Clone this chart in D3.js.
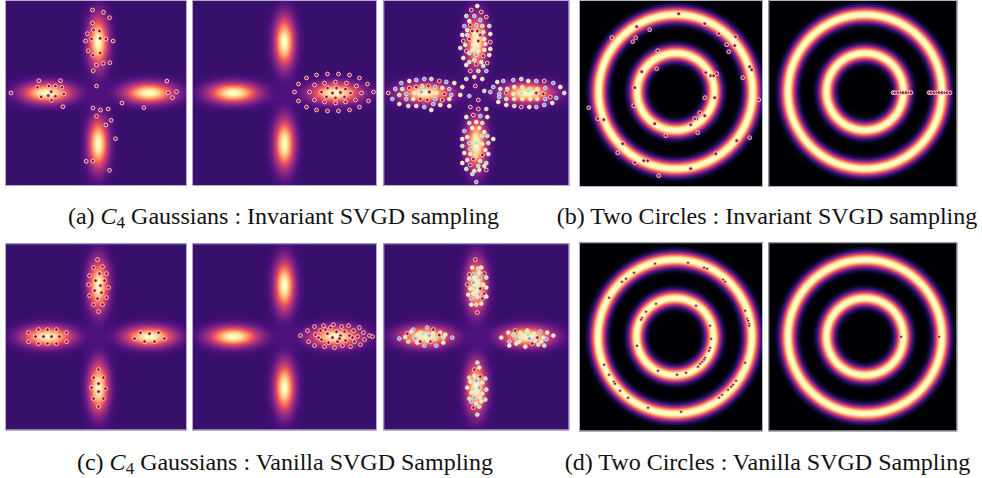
<!DOCTYPE html>
<html><head><meta charset="utf-8">
<script src="https://cdn.jsdelivr.net/npm/d3@7"></script>
<style>body{margin:0;background:#fff}svg{display:block}</style>
</head><body>
<svg id="fig" width="982" height="478"></svg>
<script>
// ---------------- DATA ----------------
// C4 Gaussian mixture: component centres and spreads (data units)
const gaussCenters = [[5.1, 0], [0, 5.1], [-5.1, 0], [0, -5.1]];
const gaussSigmaRadial = 1.75;
const gaussSigmaTangential = 0.7;
// Two circles target: ring radii and ring width (data units)
const ringRadii = [3.85, 7.7];
const ringSigma = 0.52;

// (a) panel 1: invariant SVGD particles
const invC4Particles = [[-0.57,8.3],[0.53,8.07],[1.13,7.53],[-0.57,7.0],[-1.07,5.93],[-0.47,6.3],[0.13,6.2],[-0.67,5.4],[0.2,5.47],[0.77,5.4],[-1.27,5.2],[1.5,5.2],[-1.0,4.23],[-0.53,3.77],[0.2,4.0],[-0.17,2.8],[0.5,2.97],[1.17,3.03],[-0.5,2.23],[-0.17,0.7],[-5.93,1.23],[-3.77,1.23],[-6.07,0.57],[-4.93,0.7],[-4.27,0.7],[-3.63,0.57],[-8.73,0],[-4.7,0.13],[-3.43,-0.1],[-5.7,-0.4],[-5.0,-0.27],[-4.27,-0.33],[-4.67,-0.73],[-3.53,-1.37],[6.87,1.2],[7.0,0.03],[7.83,0.13],[7.43,-0.47],[2.37,-1.0],[4.57,-1.47],[-0.53,-1.5],[0.23,-1.7],[1.0,-1.6],[-0.17,-2.33],[1.3,-2.73],[0.77,-3.2],[1.73,-4.57],[-1.2,-6.83],[-0.53,-6.8],[1.13,-7.73]];
// (a) panel 2: particles in the fundamental domain
const invC4Fundamental = [[1.0,0.1],[1.4,0.9],[2.2,1.5],[3.2,1.8],[4.3,1.9],[5.4,1.9],[6.5,1.8],[7.5,1.5],[8.3,0.9],[8.9,0.1],[8.4,-0.8],[7.5,-1.4],[6.5,-1.7],[5.4,-1.8],[4.3,-1.8],[3.2,-1.7],[2.2,-1.4],[1.4,-0.8],[2.5,0.1],[3.0,0.8],[4.0,1.0],[5.1,1.1],[6.2,1.0],[7.2,0.7],[7.7,0.0],[7.1,-0.7],[6.1,-0.9],[5.1,-1.0],[4.0,-0.9],[3.0,-0.7],[3.7,0.1],[4.3,0.5],[5.2,0.5],[6.1,0.4],[6.6,0.0],[6.0,-0.4],[5.1,-0.5],[4.2,-0.4],[4.8,0.0],[5.6,0.05]];
// (a) panel 3: orbit particles, [x, y, group]
const invC4Orbit = [[0.1,8.7,1],[-0.5,8.3,0],[0.5,8.1,0],[-1.0,7.7,2],[-0.2,7.7,3],[1.0,7.6,0],[-0.7,7.2,1],[0.4,7.3,3],[-1.2,6.7,3],[-0.6,6.8,0],[0.0,6.8,3],[0.6,6.7,2],[1.3,6.7,2],[-0.9,6.3,1],[-0.4,6.2,0],[0.1,6.2,0],[0.7,6.1,1],[-1.4,5.8,1],[-0.9,5.8,2],[-0.2,5.9,1],[0.4,5.8,0],[1.4,5.9,1],[-1.3,5.2,0],[-0.7,5.4,0],[-0.1,5.3,1],[0.2,5.2,0],[0.8,5.4,1],[-1.1,4.8,1],[-0.3,4.8,1],[0.1,4.7,1],[0.9,4.9,1],[1.4,5.1,0],[-1.6,4.5,2],[-1.0,4.2,0],[-0.4,4.3,1],[0.2,4.2,1],[0.8,4.3,1],[1.4,4.4,1],[-0.7,4.0,2],[0.0,3.8,3],[0.7,3.7,0],[1.3,3.8,1],[-1.3,3.5,1],[-0.7,3.1,2],[-0.2,3.3,2],[0.5,3.1,1],[1.1,3.0,0],[-1.0,2.8,1],[0.0,2.9,0],[0.7,2.7,2],[-0.6,2.2,0],[0.2,2.2,2],[1.0,2.2,3],
[-1.0,1.4,2],[-0.2,1.6,1],[0.6,1.4,1],[-1.4,0.6,1],[-0.1,0.7,0],[0.8,0.2,2],[-1.6,-0.2,1],[-0.7,-0.3,3],[0.2,-0.7,0],[-0.6,-1.4,0],[0.2,-1.6,0],[1.0,-1.6,2],
[-7.5,1.0,3],[-6.7,1.2,1],[-6.0,1.3,3],[-5.2,1.4,3],[-4.5,1.4,2],[-3.7,1.2,0],[-3.0,1.1,3],[-2.2,1.0,1],[-8.1,0.4,3],[-7.4,0.4,2],[-6.7,0.5,0],[-6.0,0.6,0],[-5.4,0.7,2],[-4.8,0.7,0],[-4.1,0.6,3],[-3.4,0.5,1],[-2.7,0.4,3],[-8.8,0.0,0],[-7.7,-0.2,2],[-7.0,-0.1,3],[-6.2,0.0,1],[-5.5,0.1,3],[-4.7,0.1,0],[-4.0,0.0,1],[-3.2,-0.1,0],[-2.5,-0.2,3],[-8.4,-0.6,3],[-7.0,-0.6,3],[-6.3,-0.6,1],[-5.6,-0.6,0],[-4.9,-0.7,0],[-4.1,-0.6,3],[-3.4,-0.7,0],[-2.7,-0.6,1],[-7.7,-1.1,1],[-6.8,-1.3,2],[-6.0,-1.3,1],[-5.2,-1.4,3],[-4.3,-1.1,3],[-3.6,-1.2,1],[-2.7,-1.3,1],[-4.5,-1.7,1],
[2.1,1.1,1],[2.7,1.2,3],[3.7,1.3,3],[4.5,1.4,2],[5.2,1.2,1],[6.0,1.2,3],[6.8,1.2,0],[7.7,1.0,3],[1.7,0.6,3],[2.4,0.4,1],[3.1,0.4,2],[3.8,0.6,1],[4.6,0.6,1],[5.4,0.4,2],[6.1,0.4,1],[6.9,0.5,3],[8.4,0.6,1],[1.4,0.1,3],[2.3,-0.1,3],[3.0,0.0,0],[3.7,-0.1,1],[4.5,0.0,2],[5.2,0.2,2],[6.0,0.0,0],[6.7,-0.1,0],[7.4,-0.4,0],[8.8,0.0,2],[2.3,-0.4,3],[3.0,-0.6,2],[3.8,-0.6,1],[4.6,-0.6,1],[5.4,-0.6,1],[6.1,-0.6,1],[6.9,-0.6,3],[8.0,-0.5,3],[2.2,-0.9,1],[3.0,-1.2,1],[3.8,-1.3,2],[4.5,-1.4,0],[5.3,-1.4,1],[6.0,-1.4,3],[6.8,-1.2,3],[7.6,-1.0,1],
[-1.0,-2.4,1],[-0.3,-2.2,0],[0.4,-2.3,3],[1.1,-2.4,1],[-0.7,-3.0,2],[0.0,-2.9,1],[0.6,-3.0,2],[-1.2,-3.8,3],[-0.4,-3.5,1],[0.3,-3.5,1],[0.8,-3.9,1],[-0.9,-4.4,1],[-0.1,-4.3,1],[0.6,-4.3,2],[1.1,-4.3,2],[1.7,-4.6,1],[-1.4,-4.6,1],[-0.7,-5.0,3],[0.0,-5.0,2],[0.6,-5.1,1],[1.2,-5.0,2],[-1.4,-5.3,2],[-0.6,-5.6,3],[0.1,-5.6,1],[0.9,-5.7,1],[-1.2,-6.0,1],[-0.6,-6.1,1],[-0.1,-6.3,2],[0.6,-6.2,0],[1.2,-6.1,1],[-0.9,-6.7,1],[-0.3,-6.6,0],[0.4,-6.8,2],[1.0,-7.0,2],[-1.4,-7.0,1],[-0.6,-7.2,0],[0.2,-7.3,2],[0.8,-7.3,1],[-1.0,-7.6,2],[-0.2,-7.8,1],[0.3,-7.7,1],[1.0,-7.7,0],[-0.4,-8.1,2],[0.0,-8.9,3]];

// (c) panel 1: vanilla SVGD particles
const vanC4Particles = [[-0.1,7.7],[-0.5,6.9],[0.4,7.0],[-0.9,6.1],[0.1,6.3],[0.8,6.3],[-0.3,5.6],[0.6,5.6],[-1.0,5.2],[0.2,5.1],[1.0,4.9],[-0.4,4.6],[0.3,4.4],[-0.9,4.1],[-0.1,3.8],[0.8,3.9],[-0.5,3.2],[0.4,3.2],[0.0,2.5],
[-7.0,0.4],[-6.0,0.7],[-5.1,0.7],[-4.2,0.7],[-3.2,0.4],[-6.3,0.0],[-5.5,0.0],[-4.7,0.0],[-3.9,0.0],[-7.0,-0.5],[-6.0,-0.7],[-5.1,-0.7],[-4.2,-0.7],[-3.2,-0.5],
[4.2,0.4],[5.1,0.3],[6.0,0.4],[3.6,-0.2],[4.6,-0.5],[5.6,-0.5],[6.6,-0.2],
[0.0,-3.3],[-0.5,-4.1],[0.5,-4.1],[0.0,-4.7],[-0.7,-5.1],[0.7,-5.2],[0.0,-5.5],[-0.5,-6.2],[0.5,-6.2],[0.0,-7.0]];
// (c) panel 2: fundamental-domain particles
const vanC4Fundamental = [[1.6,0.1],[2.3,0.6],[2.4,-0.5],[3.0,1.0],[3.1,0.2],[3.0,-0.9],[3.6,0.6],[3.7,-0.3],[3.9,1.1],[4.0,-1.0],[4.3,0.3],[4.4,-0.6],[4.6,0.9],[4.8,-0.1],[4.9,1.2],[5.0,-1.1],[5.2,0.5],[5.3,-0.5],[5.6,0.1],[5.7,1.0],[5.8,-0.9],[6.0,0.5],[6.1,-0.4],[6.4,1.1],[6.5,0.1],[6.6,-1.0],[6.9,0.6],[7.0,-0.5],[7.3,0.0],[7.5,0.9],[7.6,-0.8],[7.9,0.4],[8.0,-0.3],[8.5,0.1],[4.1,0.7],[5.5,-0.2],[6.8,-0.1],[3.4,-0.1],[8.8,0.0]];
// (c) panel 3: orbit particles, [x, y, group]
const vanC4Orbit = [[-0.1,7.7,0],[-0.4,6.9,1],[0.2,6.8,2],[0.5,6.9,1],[-0.7,6.2,0],[-0.3,6.2,3],[0.3,6.4,1],[0.8,6.3,0],[-0.7,5.8,1],[-0.2,5.9,1],[0.4,5.9,3],[1.0,5.9,2],[-0.9,5.2,0],[-0.3,5.4,3],[0.2,5.3,1],[0.7,5.2,1],[-0.6,4.8,1],[-0.1,4.9,2],[0.4,4.8,0],[1.0,4.9,1],[-0.8,4.2,1],[-0.3,4.3,1],[0.3,4.2,3],[0.8,4.3,0],[-0.5,3.8,3],[0.1,4.0,1],[0.6,3.8,0],[1.0,4.0,1],[-0.5,3.2,1],[0.0,3.2,2],[0.5,3.3,1],[0.1,2.4,0],
[-7.7,-0.2,3],[-6.9,0.3,0],[-6.3,0.7,3],[-5.6,0.4,1],[-4.9,0.9,3],[-4.3,0.7,0],[-3.6,0.4,1],[-3.1,0.2,1],[-6.8,-0.5,2],[-6.1,-0.2,3],[-5.5,0.0,1],[-4.7,0.1,3],[-4.1,-0.2,2],[-3.3,-0.1,2],[-2.4,-0.1,3],[-5.9,-0.6,1],[-5.2,-0.9,3],[-4.6,-0.5,0],[-4.0,-0.9,3],[-3.3,-0.6,1],[-6.5,0.5,1],[-5.9,0.2,1],[-5.3,0.3,2],[-4.3,0.3,1],[-3.7,0.15,0],[-7.1,-0.05,1],[-4.9,-0.4,1],[-5.6,-0.5,0],
[2.5,-0.1,1],[3.2,0.4,1],[3.9,0.6,0],[4.4,0.4,1],[5.1,0.6,1],[5.8,0.3,1],[6.4,0.5,3],[7.1,0.4,1],[7.7,0.1,1],[3.3,-0.5,3],[4.1,-0.3,3],[4.7,0.0,1],[5.3,-0.2,3],[6.1,-0.1,0],[6.7,-0.1,1],[7.0,-0.25,3],[3.3,-0.9,1],[4.0,-0.7,1],[4.9,-1.0,1],[5.6,-0.7,0],[6.2,-0.8,2],[6.8,-0.9,2],[3.7,0.2,2],[4.3,-0.5,1],[5.2,0.2,2],[5.9,-0.4,1],[6.5,-0.5,1],
[0.1,-2.6,2],[-0.2,-3.3,0],[0.3,-3.1,1],[-0.7,-4.1,2],[-0.2,-3.9,1],[0.4,-4.0,0],[0.9,-4.2,2],[-0.6,-4.5,1],[0.0,-4.4,3],[0.6,-4.6,1],[-0.9,-5.1,1],[-0.3,-5.2,2],[0.3,-5.1,3],[1.0,-5.3,2],[-0.5,-5.6,1],[0.1,-5.5,1],[0.6,-5.7,1],[-0.7,-6.2,2],[-0.2,-6.1,3],[0.4,-6.1,1],[0.9,-6.3,2],[-0.5,-6.5,3],[0.0,-6.7,1],[0.5,-6.5,1],[-0.3,-7.1,0],[0.3,-7.0,2],[0.1,-7.8,2]];

// (b) Two circles, invariant SVGD
const invRingParticles = [[0.3,7.8],[2.9,6.8],[-3.9,6.5],[-2.6,6.2],[4.3,5.8],[6.0,5.5],[-6.4,5.4],[-4.0,5.4],[-4.3,5.0],[5.1,4.7],[5.9,4.6],[5.3,4.0],[-1.8,4.1],[7.4,2.5],[7.6,2.2],[6.7,1.4],[-3.4,2.0],[-1.9,2.3],[3.0,1.9],[3.5,1.6],[3.8,1.6],[4.1,1.8],[-4.1,0.4],[2.9,-0.6],[3.9,-0.6],[8.3,-0.8],[-8.7,-1.6],[-4.2,-1.4],[2.4,-2.1],[2.9,-2.4],[2.1,-2.7],[1.9,-2.7],[-7.8,-2.7],[-7.2,-2.8],[1.5,-3.3],[-2.1,-3.2],[2.2,-4.1],[-1.0,-4.4],[7.4,-4.6],[6.1,-4.9],[-5.3,-5.2],[4.0,-6.2],[-5.8,-6.1],[-4.1,-7.1],[-3.2,-6.9],[-2.8,-6.9],[1.5,-7.7],[-1.7,-8.4]];
const invRingFundamental = [[2.8,-0.1],[3.0,-0.1],[3.3,-0.1],[3.6,-0.1],[3.8,-0.1],[4.1,-0.1],[4.4,-0.1],[4.6,-0.1],[6.4,-0.1],[6.6,-0.1],[6.9,-0.1],[7.2,-0.1],[7.4,-0.1],[7.7,-0.1],[8.0,-0.1],[8.2,-0.1],[8.5,-0.1]];
// (d) Two circles, vanilla SVGD
const vanRingParticles = [[-2.0,7.3],[1.3,7.4],[2.9,6.9],[3.2,6.8],[-4.1,6.4],[-4.9,5.8],[-5.3,5.5],[4.8,5.7],[5.0,5.5],[-6.6,3.9],[-1.9,3.3],[2.1,3.1],[-2.9,2.5],[-3.3,1.9],[-3.4,1.7],[7.0,2.6],[7.2,1.8],[7.3,1.6],[7.4,1.3],[7.4,1.1],[3.5,1.1],[3.6,-0.2],[-3.8,-0.9],[3.5,-1.1],[3.4,-1.4],[3.0,-2.1],[2.9,-2.3],[2.7,-2.5],[2.5,-2.7],[2.3,-3.0],[7.0,-2.6],[-7.1,-2.8],[-1.7,-3.4],[0.2,-3.8],[1.1,-3.6],[-6.6,-3.8],[-6.1,-4.5],[-6.0,-4.7],[6.1,-4.4],[5.8,-4.8],[5.6,-5.0],[5.3,-5.3],[4.7,-5.8],[4.4,-6.1],[-5.5,-5.4],[-4.7,-6.1],[-2.7,-7.1],[0.6,-7.5]];
const vanRingFundamental = [[3.6,0.0],[7.4,0.0]];

const groupColors = ["#a8102e", "#fdf1a2", "#a4ee9e", "#78a2f2"];

const captionTexts = [
  {label: "(a) ", sym: "C", sub: "4", rest: " Gaussians : Invariant SVGD sampling"},
  {label: "(b) Two Circles : Invariant SVGD sampling"},
  {label: "(c) ", sym: "C", sub: "4", rest: " Gaussians : Vanilla SVGD Sampling"},
  {label: "(d) Two Circles : Vanilla SVGD Sampling"}
];

// ---------------- LAYOUT ----------------
const UNIT = 10; // px per data unit
const panels = [
  {x0:5, x1:187, y0:0, y1:186, cx:98.2, cy:93, kind:"c4", pts:invC4Particles},
  {x0:192, x1:377, y0:0, y1:186, cx:284.5, cy:93, kind:"c4", pts:invC4Fundamental},
  {x0:383.3, x1:569.3, y0:0, y1:186, cx:476.3, cy:93, kind:"c4", pts:invC4Orbit, grouped:true},
  {x0:579, x1:763, y0:0, y1:187, cx:675.7, cy:91.7, kind:"ring", pts:invRingParticles},
  {x0:768.3, x1:957.3, y0:0, y1:187, cx:865, cy:91.7, kind:"ring", pts:invRingFundamental},
  {x0:5, x1:187, y0:243.3, y1:430, cx:98.5, cy:336.6, kind:"c4", pts:vanC4Particles},
  {x0:192, x1:377, y0:243.3, y1:430, cx:284.5, cy:336.6, kind:"c4", pts:vanC4Fundamental},
  {x0:383.3, x1:569.3, y0:243.3, y1:430, cx:476.3, cy:336.6, kind:"c4", pts:vanC4Orbit, grouped:true},
  {x0:579, x1:763, y0:242.3, y1:431, cx:675, cy:336.7, kind:"ring", pts:vanRingParticles, small:true},
  {x0:768.3, x1:957.3, y0:242.3, y1:431, cx:865, cy:336.7, kind:"ring", pts:vanRingFundamental, small:true}
];
const captionPos = [[283.5,224],[767,224],[285,470],[767.5,470]];

// ---------------- DRAW ----------------
const svg = d3.select("#fig");
const lut = d3.range(256).map(i => d3.rgb(d3.interpolateMagma(i/255)));

function c4Density(X, Y){
  let s = 0;
  for (const [cx, cy] of gaussCenters){
    const n = Math.hypot(cx, cy), ux = cx/n, uy = cy/n;
    const dx = X-cx, dy = Y-cy;
    const a = dx*ux + dy*uy, p = -dx*uy + dy*ux;
    s += Math.exp(-a*a/(2*gaussSigmaRadial*gaussSigmaRadial) - p*p/(2*gaussSigmaTangential*gaussSigmaTangential));
  }
  return s;
}
function ringDensity(X, Y){
  const r = Math.hypot(X, Y);
  let m = 0;
  for (const R of ringRadii) m = Math.max(m, Math.exp(-(r-R)*(r-R)/(2*ringSigma*ringSigma)));
  return m;
}
const c4Color = d => 0.19 + 0.81*Math.min(1, d/0.98);
const ringColor = d => Math.min(1, d/0.95);

panels.forEach(p => {
  p.xs = d3.scaleLinear().domain([(p.x0-p.cx)/UNIT, (p.x1-p.cx)/UNIT]).range([p.x0, p.x1]);
  p.ys = d3.scaleLinear().domain([(p.cy-p.y0)/UNIT, (p.cy-p.y1)/UNIT]).range([p.y0, p.y1]);
  const w = Math.round(p.x1-p.x0), h = Math.round(p.y1-p.y0);
  const cv = document.createElement("canvas"); cv.width = w; cv.height = h;
  const ctx = cv.getContext("2d"); const img = ctx.createImageData(w, h);
  const dens = p.kind === "c4" ? c4Density : ringDensity;
  const col = p.kind === "c4" ? c4Color : ringColor;
  for (let j = 0; j < h; j++){
    const Y = p.ys.invert(p.y0 + j + 0.5);
    for (let i = 0; i < w; i++){
      const X = p.xs.invert(p.x0 + i + 0.5);
      const c = lut[Math.round(col(dens(X, Y))*255)];
      const k = (j*w + i)*4;
      img.data[k] = c.r; img.data[k+1] = c.g; img.data[k+2] = c.b; img.data[k+3] = 255;
    }
  }
  ctx.putImageData(img, 0, 0);
  const g = svg.append("g");
  g.append("image").attr("x", p.x0).attr("y", p.y0).attr("width", w).attr("height", h)
    .attr("preserveAspectRatio", "none").attr("href", cv.toDataURL());
  const clipId = "clip" + Math.round(p.x0) + "_" + Math.round(p.y0);
  svg.append("clipPath").attr("id", clipId).append("rect")
    .attr("x", p.x0).attr("y", p.y0).attr("width", w).attr("height", h);
  g.append("g").attr("clip-path", `url(#${clipId})`).selectAll("circle").data(p.pts).join("circle")
    .attr("cx", d => p.xs(d[0])).attr("cy", d => p.ys(d[1]))
    .attr("r", p.small ? 1.5 : 1.9)
    .attr("fill", d => p.grouped ? groupColors[d[2]] : groupColors[0])
    .attr("stroke", "#f3dfe3").attr("stroke-opacity", 0.9)
    .attr("stroke-width", p.small ? 0.7 : 1.0);
  g.append("rect").attr("x", p.x0+0.5).attr("y", p.y0+0.5).attr("width", w-1).attr("height", h-1)
    .attr("fill", "none").attr("stroke", p.kind === "c4" ? "#b3a9cc" : "#b4b4bf").attr("stroke-width", 1);
});

captionTexts.forEach((c, i) => {
  const t = svg.append("text").attr("x", captionPos[i][0]).attr("y", captionPos[i][1])
    .attr("text-anchor", "middle")
    .style("font-family", '"Liberation Serif", "Times New Roman", serif')
    .style("font-size", "24px").attr("fill", "#111");
  t.append("tspan").text(c.label);
  if (c.sym){
    t.append("tspan").style("font-style", "italic").text(c.sym);
    t.append("tspan").attr("dy", 4).style("font-size", "17px").text(c.sub);
    t.append("tspan").attr("dy", -4).text(c.rest);
  }
});
</script>
</body></html>
